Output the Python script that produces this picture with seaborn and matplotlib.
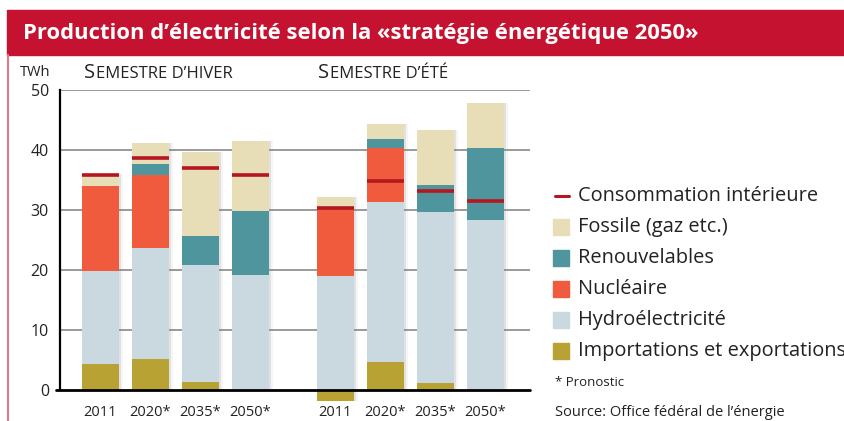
import numpy as np
import matplotlib
matplotlib.use("Agg")
import matplotlib.pyplot as plt
from matplotlib.patches import Rectangle
from matplotlib.lines import Line2D
import seaborn as sns

# data (TWh)
periods = ["2011", "2020*", "2035*", "2050*"]
imports_winter = [4.3, 5.2, 1.4, 0.0]
hydro_winter = [15.5, 18.5, 19.4, 19.2]
nuclear_winter = [14.2, 12.2, 0.0, 0.0]
renew_winter = [0.0, 1.7, 4.8, 10.6]
fossil_winter = [2.0, 3.6, 14.0, 11.7]
conso_winter = [35.9, 38.7, 37.0, 35.8]

imports_summer = [-1.8, 4.6, 1.1, 0.0]
hydro_summer = [19.0, 26.8, 28.6, 28.3]
nuclear_summer = [11.3, 9.0, 0.0, 0.0]
renew_summer = [0.0, 1.4, 4.5, 12.1]
fossil_summer = [1.8, 2.5, 9.2, 7.5]
conso_summer = [30.3, 34.8, 33.1, 31.5]

layer_names = ["Importations et exportations", "Hydroélectricité", "Nucléaire",
               "Renouvelables", "Fossile (gaz etc.)"]
layer_colors = ["#B8A233", "#C9D9DF", "#F05B3D", "#4F959E", "#E7DDB6"]
conso_color = "#B5161F"

sns.set_style("white")
plt.rcParams["font.family"] = ["Open Sans", "DejaVu Sans"]

W, H = 845, 421
fig = plt.figure(figsize=(W / 100, H / 100), dpi=100)

# title band and left rule
fig.patches.append(Rectangle((7 / W, 1 - 55 / H), 1, 45 / H, transform=fig.transFigure,
                             color="#C41230", zorder=0))
fig.add_artist(Line2D([8 / W, 8 / W], [0, 1 - 55 / H], transform=fig.transFigure,
                      color="#E07A8A", lw=1.5))
fig.text(23 / W, 1 - 33 / H, "Production d’électricité selon la «stratégie énergétique 2050»",
         color="white", fontsize=15.8, fontweight="bold", va="center")

ax = fig.add_axes([60 / W, 31 / H, 470 / W, 300 / H])

gap = 4.7
x_w = np.arange(4)
x_s = np.arange(4) + gap
xs = np.concatenate([x_w, x_s])
bw = 0.74

layers_w = [imports_winter, hydro_winter, nuclear_winter, renew_winter, fossil_winter]
layers_s = [imports_summer, hydro_summer, nuclear_summer, renew_summer, fossil_summer]

for x, layers in [(x_w, layers_w), (x_s, layers_s)]:
    pos_base = np.zeros(4)
    neg_base = np.zeros(4)
    for vals, col in zip(layers, layer_colors):
        vals = np.array(vals)
        neg = vals < 0
        bottom = np.where(neg, vals, pos_base)
        height = np.abs(vals)
        ax.bar(x, height, bottom=bottom, width=bw, color=col, zorder=3,
               clip_on=False, linewidth=0)
        pos_base = pos_base + np.where(neg, 0, vals)
        neg_base = neg_base + np.where(neg, vals, 0)
    # soft shadow on the right of each column
    for k, a in [(0.045, 0.18), (0.09, 0.08)]:
        ax.bar(x + k, pos_base - neg_base, bottom=neg_base, width=bw, color="#888888",
               alpha=a, zorder=2, clip_on=False, linewidth=0)

conso = conso_winter + conso_summer
ax.hlines(conso, xs - bw / 2, xs + bw / 2, color=conso_color, lw=2.6, zorder=4)

ax.set_xlim(-0.81, 8.59)
ax.set_ylim(0, 50)
ax.set_yticks([0, 10, 20, 30, 40, 50])
ax.set_yticklabels(["0", "10", "20", "30", "40", "50"])
for y in [10, 20, 30, 40, 50]:
    ax.axhline(y, color="#7F7F7F", lw=1.1, zorder=1)
ax.axhline(0, xmin=-0.008, color="black", lw=2, zorder=5, clip_on=False)
ax.set_xticks(xs)
ax.set_xticklabels(periods + periods)
ax.tick_params(axis="x", length=0, pad=11, labelsize=10.5, labelcolor="#222222")
ax.tick_params(axis="y", length=0, pad=8, labelsize=11.5, labelcolor="#222222")
for s in ["top", "right", "bottom"]:
    ax.spines[s].set_visible(False)
ax.spines["left"].set_color("black")
ax.spines["left"].set_linewidth(1.6)

# unit and group headings (small caps)
fig.text(20 / W, 1 - 72 / H, "TWh", fontsize=10.5, color="#222222", va="center")
fig.canvas.draw()
renderer = fig.canvas.get_renderer()
for x0, rest in [(84, "EMESTRE D’HIVER"), (318, "EMESTRE D’ÉTÉ")]:
    t = fig.text(x0 / W, 1 - 78 / H, "S", fontsize=14.5, color="#222222", va="baseline")
    bb = t.get_window_extent(renderer)
    fig.text((bb.x1 + 0.5) / W, 1 - 78 / H, rest, fontsize=12, color="#222222",
             va="baseline")

# legend
lx, tx = 553, 578
rows = [196, 227, 258, 289, 320, 351]
fig.add_artist(Line2D([555 / W, 569 / W], [1 - rows[0] / H] * 2, transform=fig.transFigure,
                      color=conso_color, lw=2.2))
fig.text(tx / W, 1 - rows[0] / H, "Consommation intérieure", fontsize=14.4,
         color="#222222", va="center")
legend_order = [4, 3, 2, 1, 0]
for r, i in zip(rows[1:], legend_order):
    fig.patches.append(Rectangle((lx / W, 1 - (r + 8) / H), 16 / W, 16 / H,
                                 transform=fig.transFigure, color=layer_colors[i]))
    fig.text(tx / W, 1 - r / H, layer_names[i], fontsize=14.4, color="#222222",
             va="center")
fig.text(555 / W, 1 - 383 / H, "* Pronostic", fontsize=9.5, color="#222222", va="center")
fig.text(555 / W, 1 - 412 / H, "Source: Office fédéral de l’énergie", fontsize=10.5,
         color="#222222", va="center")

fig.savefig("out.png", dpi=100)
